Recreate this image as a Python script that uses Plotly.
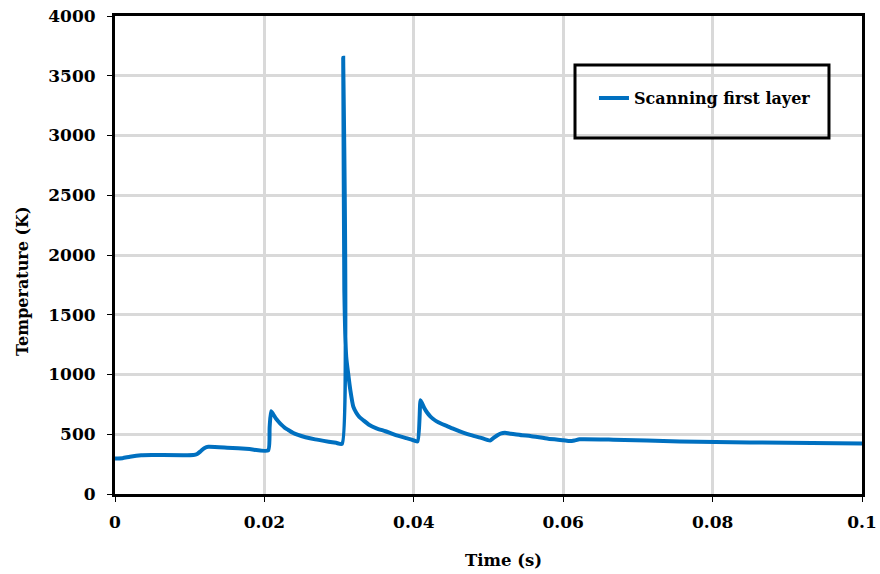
import plotly.graph_objects as go

time_s = [0, 0.001, 0.002, 0.0035, 0.005, 0.0105, 0.0110, 0.0115, 0.0120, 0.0125, 0.015, 0.018, 0.0205,
          0.0207, 0.0209, 0.0212, 0.0215, 0.0219, 0.0223, 0.0227, 0.0232, 0.0238, 0.0245, 0.0255,
          0.0268, 0.0286, 0.0296, 0.0304,
          0.03055, 0.0307, 0.03095, 0.03123, 0.0315, 0.0319, 0.0323, 0.0327, 0.0332, 0.0340,
          0.0350, 0.0362, 0.0377, 0.0390, 0.0397, 0.0405,
          0.0409, 0.0411, 0.0414, 0.0418, 0.0422, 0.0426, 0.0430, 0.0437, 0.0444, 0.0455,
          0.0466, 0.0478, 0.0489, 0.0502,
          0.0506, 0.0512, 0.0517, 0.0522, 0.0530, 0.0545, 0.0556, 0.0580, 0.0600, 0.0609,
          0.0615, 0.0622, 0.0667, 0.0756, 0.0850, 0.1000]
temperature_k = [298, 300, 312, 324, 326, 326, 335, 360, 385, 395, 388, 376, 365,
                 560, 692, 665, 635, 605, 578, 556, 536, 513, 494, 475,
                 457, 438, 428, 420,
                 3650, 1700, 1150, 1000, 870, 731, 680, 645, 619, 580,
                 550, 525, 490, 467, 455, 440,
                 785, 760, 720, 680, 650, 628, 610, 588, 570, 540,
                 514, 490, 472, 447,
                 465, 492, 508, 512, 505, 492, 486, 462, 450, 443,
                 448, 458, 455, 440, 432, 422]
series_name = "Scanning first layer"
x_ticks = [0, 0.02, 0.04, 0.06, 0.08, 0.1]
x_tick_labels = ["0", "0.02", "0.04", "0.06", "0.08", "0.1"]
y_ticks = [0, 500, 1000, 1500, 2000, 2500, 3000, 3500, 4000]

FONT = "DejaVu Serif"

fig = go.Figure()
fig.add_trace(go.Scatter(x=time_s, y=temperature_k, mode="lines", name=series_name,
                         line=dict(color="#0070c0", width=4, shape="spline", smoothing=0.5),
                         showlegend=True))

fig.update_layout(
    width=880, height=574,
    margin=dict(l=115, r=18, t=16, b=80),
    paper_bgcolor="white", plot_bgcolor="white",
    font=dict(family=FONT, color="black", size=16),
    showlegend=True,
    legend=dict(x=0.6412, y=0.828, xanchor="left", yanchor="middle",
                bgcolor="rgba(0,0,0,0)", borderwidth=0,
                font=dict(family=FONT, size=16, color="black", weight="bold")),
    shapes=[dict(type="rect", xref="paper", yref="paper",
                 x0=0.6158, x1=0.9558, y0=0.7448, y1=0.8975,
                 line=dict(color="black", width=3), fillcolor="rgba(0,0,0,0)")],
    annotations=[
        dict(text="Time (s)", xref="paper", yref="paper", x=0.520, y=-0.140,
             xanchor="center", yanchor="middle", showarrow=False,
             font=dict(family=FONT, size=16.5, color="black", weight="bold")),
        dict(text="Temperature (K)", xref="paper", yref="paper", x=-0.1245, y=0.4456,
             xanchor="center", yanchor="middle", showarrow=False, textangle=-90,
             font=dict(family=FONT, size=16, color="black", weight="bold")),
    ],
)

fig.update_xaxes(
    range=[0, 0.1], tickvals=x_ticks, ticktext=x_tick_labels, automargin=False,
    showgrid=True, gridcolor="#d9d9d9", gridwidth=3, zeroline=False,
    showline=True, linecolor="black", linewidth=3, mirror=True,
    ticks="outside", ticklen=5, tickcolor="black", tickwidth=1,
    ticklabelstandoff=6,
    tickfont=dict(family=FONT, size=17, weight="bold"),
)
fig.update_yaxes(
    range=[0, 4000], tickvals=y_ticks, automargin=False,
    showgrid=True, gridcolor="#d9d9d9", gridwidth=3, zeroline=False,
    showline=True, linecolor="black", linewidth=3, mirror=True,
    ticks="outside", ticklen=5, tickcolor="black", tickwidth=1,
    ticklabelstandoff=8,
    tickfont=dict(family=FONT, size=17, weight="bold"),
)

fig.write_html("out.html")
